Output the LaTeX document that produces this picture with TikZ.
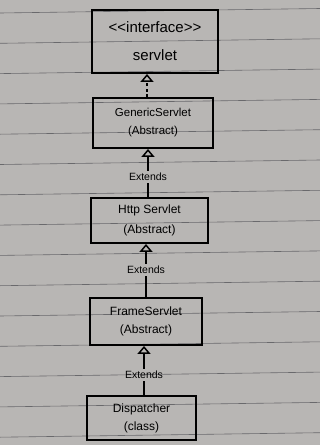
\documentclass[tikz,border=0pt]{standalone}
\usepackage{fontspec}
\setmainfont{Liberation Sans}
\usetikzlibrary{arrows.meta}
\definecolor{paper}{RGB}{184,182,180}
\definecolor{ruling}{RGB}{105,105,108}
\begin{document}
\begin{tikzpicture}[x=1pt,y=-1pt,
  umlbox/.style={draw=black, line width=1.9pt, rectangle, inner sep=0pt, align=center, text=black},
  extlabel/.style={inner sep=2pt, font=\fontsize{10.5}{12}\selectfont, text=black},
  inherit/.style={draw=black, line width=1.5pt, -{Triangle[open, width=13pt, length=8pt, line width=1.5pt]}},
  realize/.style={inherit, dash pattern=on 3pt off 2.5pt},
  plainline/.style={draw=black, line width=1.5pt}]
\useasboundingbox (0,0) rectangle (320,445);
\fill[paper] (0,0) rectangle (320,445);
\foreach \k in {0,...,14}{
  \draw[ruling, line width=0.6pt] (0,{13+30.3*\k}) -- (320,{8.5+30.3*\k});
}
% boxes
\node[umlbox, minimum width=126pt, minimum height=63pt, font=\fontsize{15}{18}\selectfont] (iface) at (155,41.5) {<{}<interface>{}>\\[10pt]servlet};
\node[umlbox, minimum width=120pt, minimum height=50pt, font=\fontsize{11.5}{14}\selectfont] (generic) at (153,123) {GenericServlet\\[4pt](Abstract)};
\node[umlbox, minimum width=117pt, minimum height=45pt, font=\fontsize{12}{14.4}\selectfont] (http) at (149.5,220.5) {Http Servlet\\[5.5pt](Abstract)};
\node[umlbox, minimum width=112pt, minimum height=47pt, font=\fontsize{12}{14.4}\selectfont] (frame) at (146,321.5) {FrameServlet\\[3.5pt](Abstract)};
\node[umlbox, minimum width=109pt, minimum height=44pt, font=\fontsize{12}{14.4}\selectfont] (disp) at (141.5,418) {Dispatcher\\[3.5pt](class)};
% labels
\coordinate (cx) at (147,0);
\node[extlabel] (ext1) at (148,177) {Extends};
\node[extlabel] (ext2) at (146,270) {Extends};
\node[extlabel] (ext3) at (144,375) {Extends};
% connectors
\draw[realize] (generic.north -| cx) -- (iface.south -| cx);
\draw[plainline] (http.north -| ext1) -- (ext1.south);
\draw[inherit] (ext1.north) -- (generic.south -| ext1);
\draw[plainline] (frame.north -| ext2) -- (ext2.south);
\draw[inherit] (ext2.north) -- (http.south -| ext2);
\draw[plainline] (disp.north -| ext3) -- (ext3.south);
\draw[inherit] (ext3.north) -- (frame.south -| ext3);
\end{tikzpicture}
\end{document}
